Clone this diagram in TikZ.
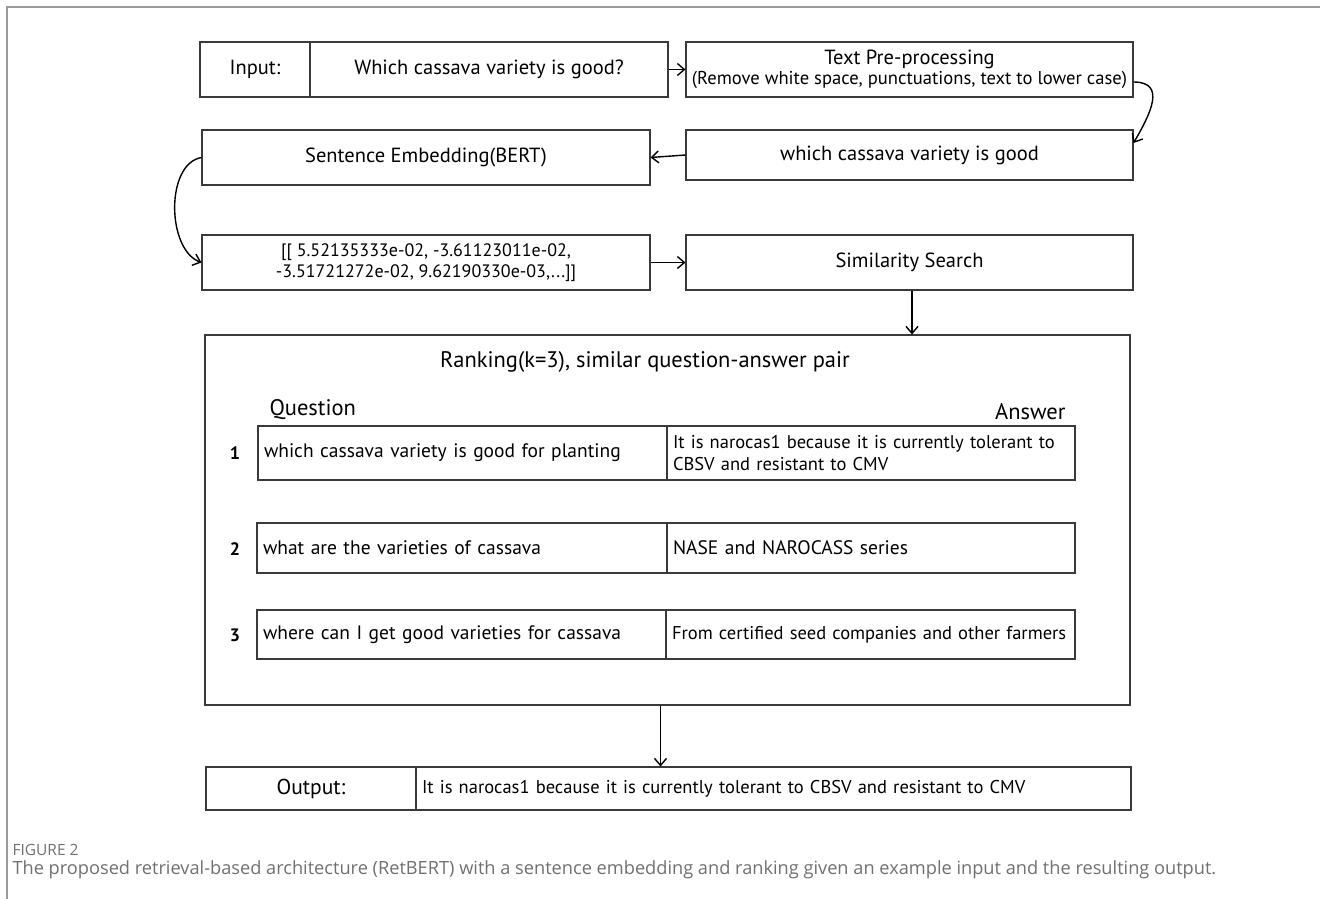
\documentclass[tikz,border=0pt]{standalone}
\usepackage{fontspec}
\setmainfont{PT Sans}
\newfontfamily\capfont{Open Sans}
\usetikzlibrary{arrows.meta}

\definecolor{boxline}{HTML}{3A3A3A}
\definecolor{framegray}{HTML}{9A9A9A}
\definecolor{capgray}{HTML}{707070}

\tikzset{
  blk/.style={draw=boxline, line width=1.1pt, inner sep=0pt, font=\fontsize{20.5}{24}\selectfont},
  lblk/.style={blk, align=left, inner xsep=6pt},
  arr/.style={line width=1.4pt, -{Straight Barb[length=7pt,width=12pt]}},
  rownum/.style={font=\fontsize{18}{21}\selectfont\bfseries}
}

\begin{document}
\begin{tikzpicture}[x=1pt,y=1pt]
  \useasboundingbox (0,0) rectangle (1320,-899);
  % frame of the figure panel
  \draw[framegray, line width=1.5pt] (1320,-7) -- (7,-7) -- (7,-899);

  % top row
  \node[blk, minimum width=110, minimum height=55] (inlbl) at (255,-69.5) {Input:};
  \node[blk, minimum width=358, minimum height=55] (inq) at (489,-69.5) {Which cassava variety is good?};
  \node[blk, minimum width=447, minimum height=55, align=center, font=\fontsize{20.5}{23}\selectfont] (prep) at (909.5,-69.5)
    {Text Pre-processing\\[-3pt]{\fontsize{18.6}{20}\selectfont(Remove white space, punctuations, text to lower case)}};

  % second row
  \node[blk, minimum width=447, minimum height=50] (clean) at (909.5,-155) {which cassava variety is good};
  \node[blk, minimum width=448, minimum height=55] (embed) at (426,-157.5) {Sentence Embedding(BERT)};

  % third row
  \node[blk, minimum width=448, minimum height=55, align=center, font=\fontsize{18}{21}\selectfont] (vec) at (426,-262.5)
    {[[ 5.52135333e-02, -3.61123011e-02,\\-3.51721272e-02, 9.62190330e-03,...]]};
  \node[blk, minimum width=447, minimum height=55] (simsrch) at (909.5,-262.5) {Similarity Search};

  % ranking panel
  \node[blk, minimum width=925, minimum height=370] (rank) at (667.5,-520) {};
  \node[font=\fontsize{22.5}{25}\selectfont] (ranktitle) at (645,-362) {Ranking(k=3), similar question-answer pair};
  \node[anchor=west, font=\fontsize{22.5}{25}\selectfont] (qhead) at (266,-410) {Question};
  \node[anchor=east, font=\fontsize{22.5}{25}\selectfont] (ahead) at (1069,-412) {Answer};

  \node[lblk, text width=397, minimum height=54, font=\fontsize{19.5}{23}\selectfont] (q1) at (462.5,-453) {which cassava variety is good for planting};
  \node[lblk, text width=396, minimum height=54, font=\fontsize{18.5}{22}\selectfont] (a1) at (871,-453)
    {It is narocas1 because it is currently tolerant to\\CBSV and resistant to CMV};
  \node[rownum] (n1) at (235,-453) {1};

  \node[lblk, text width=398, minimum height=50, font=\fontsize{19.5}{23}\selectfont] (q2) at (462,-548) {what are the varieties of cassava};
  \node[lblk, text width=396, minimum height=50, font=\fontsize{19.5}{23}\selectfont] (a2) at (871,-548) {NASE and NAROCASS series};
  \node[rownum] (n2) at (235,-549) {2};

  \node[lblk, text width=397, minimum height=49, font=\fontsize{19.5}{23}\selectfont] (q3) at (461.5,-634.5) {where can I get good varieties for cassava};
  \node[lblk, text width=397, minimum height=49, font=\fontsize{18.5}{22}\selectfont] (a3) at (870.5,-634.5) {From certified seed companies and other farmers};
  \node[rownum] (n3) at (235,-635) {3};

  % output row
  \node[blk, minimum width=210, minimum height=43, font=\fontsize{21.5}{24}\selectfont] (outlbl) at (311,-788.5) {Output:};
  \node[lblk, text width=703, minimum height=43, font=\fontsize{18.5}{22}\selectfont] (outtxt) at (773.5,-788.5)
    {It is narocas1 because it is currently tolerant to CBSV and resistant to CMV};

  % connectors
  \draw[arr] (inq.east) -- (prep.west);
  \draw[arr] ([yshift=-12.5pt]prep.east) to[out=0,in=60,looseness=1.4] ([yshift=12pt]clean.east);
  \draw[arr] (clean.west) -- (embed.east);
  \draw[arr] (embed.west) to[out=190,in=160,looseness=0.9] (vec.west);
  \draw[arr] (vec.east) -- (simsrch.west);
  \draw[arr] ([xshift=2.5pt]simsrch.south) -- ([xshift=2.5pt]simsrch.south |- rank.north);
  \draw[arr] ([xshift=-7pt]rank.south) -- ([xshift=-7pt]rank.south |- outtxt.north);

  % caption
  \node[anchor=west, text=capgray, font=\capfont\fontsize{15.5}{17}\selectfont] (figno) at (9,-850) {FIGURE 2};
  \node[anchor=west, text=capgray, font=\capfont\fontsize{18.2}{21}\selectfont] (caption) at (9,-870)
    {The proposed retrieval-based architecture (RetBERT) with a sentence embedding and ranking given an example input and the resulting output.};
\end{tikzpicture}
\end{document}
